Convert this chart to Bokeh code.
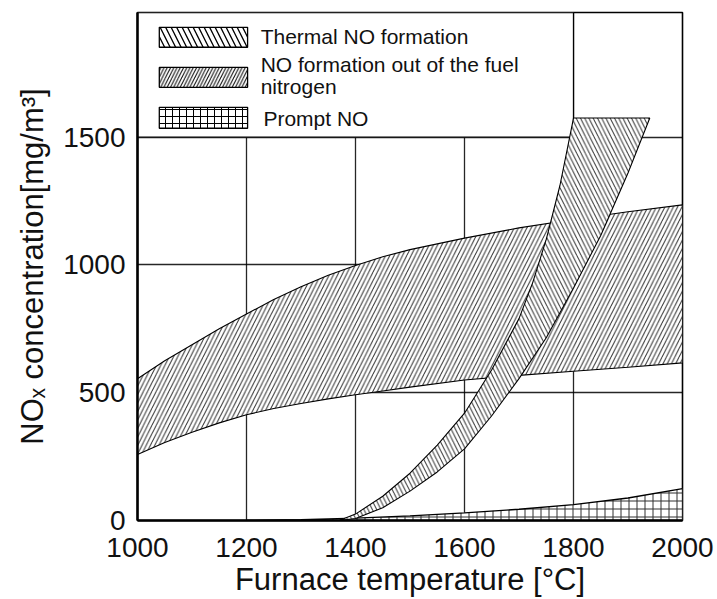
from bokeh.plotting import figure
from bokeh.models import Range1d, FixedTicker
from bokeh.core.properties import value
from bokeh.embed import file_html
from bokeh.resources import INLINE

# ---- data ----
# NO formation out of the fuel nitrogen (band)
fuel_t = [1000, 1050, 1100, 1150, 1200, 1250, 1300, 1350, 1400, 1450, 1500,
          1600, 1700, 1800, 1900, 2000]
fuel_low = [258, 305, 345, 382, 414, 438, 458, 476, 492, 507, 522,
            550, 568, 584, 600, 617]
fuel_high = [555, 625, 688, 750, 808, 865, 915, 960, 998, 1032, 1060,
             1105, 1145, 1178, 1208, 1235]

# Thermal NO formation (band)
thermal_t_high = [1370, 1400, 1450, 1500, 1550, 1600, 1650, 1700, 1725, 1750, 1775, 1800]
thermal_high = [0, 25, 95, 185, 295, 420, 590, 790, 930, 1100, 1310, 1575]
thermal_t_low = [1370, 1400, 1450, 1500, 1550, 1600, 1650, 1700, 1750, 1800, 1850, 1900, 1940]
thermal_low = [0, 8, 50, 115, 190, 280, 410, 555, 715, 910, 1115, 1360, 1575]

# Prompt NO (area above zero)
prompt_t = [1200, 1300, 1400, 1500, 1600, 1700, 1800, 1900, 2000]
prompt_high = [0, 3, 9, 18, 30, 44, 62, 88, 125]

x_ticks = [1000, 1200, 1400, 1600, 1800, 2000]
y_ticks = [0, 500, 1000, 1500]
legend_labels = ["Thermal NO formation", "NO formation out of the fuel", "nitrogen", "Prompt NO"]

FONT = "Liberation Sans"
HATCH_COLOR = "#303030"

p = figure(width=717, height=599, output_backend="svg", toolbar_location=None,
           x_range=Range1d(1000, 2000), y_range=Range1d(0, 1988),
           min_border_left=137, min_border_right=35, min_border_top=12, min_border_bottom=78)

p.background_fill_color = "white"
p.border_fill_color = "white"
p.outline_line_color = "black"
p.outline_line_width = 1.6

# axes
p.xaxis.ticker = FixedTicker(ticks=x_ticks)
p.yaxis.ticker = FixedTicker(ticks=y_ticks)
for ax in (p.xaxis, p.yaxis):
    ax.major_tick_out = 0
    ax.major_tick_in = 0
    ax.minor_tick_line_color = None
    ax.axis_line_width = 2.5
    ax.axis_line_color = "black"
    ax.major_label_text_font = FONT
    ax.major_label_text_font_size = "28px"
    ax.major_label_text_color = "#111111"
    ax.axis_label_text_font = FONT
    ax.axis_label_text_font_size = "31px"
    ax.axis_label_text_font_style = "normal"
    ax.axis_label_text_color = "#111111"
p.xaxis.axis_label = "Furnace temperature [°C]"
p.yaxis.axis_label = "NOₓ concentration[mg/m³]"
p.xaxis.major_label_standoff = 17
p.yaxis.major_label_standoff = 12
p.xaxis.axis_label_standoff = 2
p.yaxis.axis_label_standoff = 10

# grid
p.xgrid.ticker = FixedTicker(ticks=x_ticks)
p.ygrid.ticker = FixedTicker(ticks=y_ticks)
for g in (p.xgrid, p.ygrid):
    g.grid_line_color = "black"
    g.grid_line_width = 1.3
    g.grid_line_alpha = 0.85

# legend box (covers grid in upper-left region)
p.quad(left=[1000], right=[1800], bottom=[1500], top=[1988],
       fill_color="white", line_color="black", line_width=1.3)

# fuel nitrogen band
p.patch(fuel_t + fuel_t[::-1], fuel_high + fuel_low[::-1],
        fill_color="white", line_color="black", line_width=1.1,
        hatch_pattern="/", hatch_color=HATCH_COLOR, hatch_weight=1.0, hatch_scale=8.5)

# prompt NO
p.patch(prompt_t + prompt_t[::-1], prompt_high + [0] * len(prompt_t),
        fill_color="white", line_color="black", line_width=1.3,
        hatch_pattern="+", hatch_color=HATCH_COLOR, hatch_weight=1.0, hatch_scale=8)

# thermal band
p.patch(thermal_t_high + thermal_t_low[::-1], thermal_high + thermal_low[::-1],
        fill_color="white", line_color="black", line_width=1.1,
        hatch_pattern="\\", hatch_color=HATCH_COLOR, hatch_weight=1.0, hatch_scale=8.5)

# legend swatches
sw_left, sw_right = 1040, 1202
p.quad(left=[sw_left], right=[sw_right], bottom=[1852], top=[1930],
       fill_color="white", line_color="black", line_width=1.3,
       hatch_pattern="\\", hatch_color="black", hatch_weight=1.3, hatch_scale=11)
p.quad(left=[sw_left], right=[sw_right], bottom=[1695], top=[1773],
       fill_color="white", line_color="black", line_width=1.3,
       hatch_pattern="/", hatch_color="black", hatch_weight=1.0, hatch_scale=6.5)
p.quad(left=[sw_left], right=[sw_right], bottom=[1535], top=[1617],
       fill_color="white", line_color="black", line_width=1.3,
       hatch_pattern="+", hatch_color="black", hatch_weight=1.0, hatch_scale=7)

p.text(x=[1226, 1226, 1226, 1231], y=[1895, 1785, 1699, 1574], text=legend_labels,
       text_font=value(FONT), text_font_size="21px", text_color="#111111",
       text_baseline="middle", text_align="left")

open("out.html", "w").write(file_html(p, INLINE))
